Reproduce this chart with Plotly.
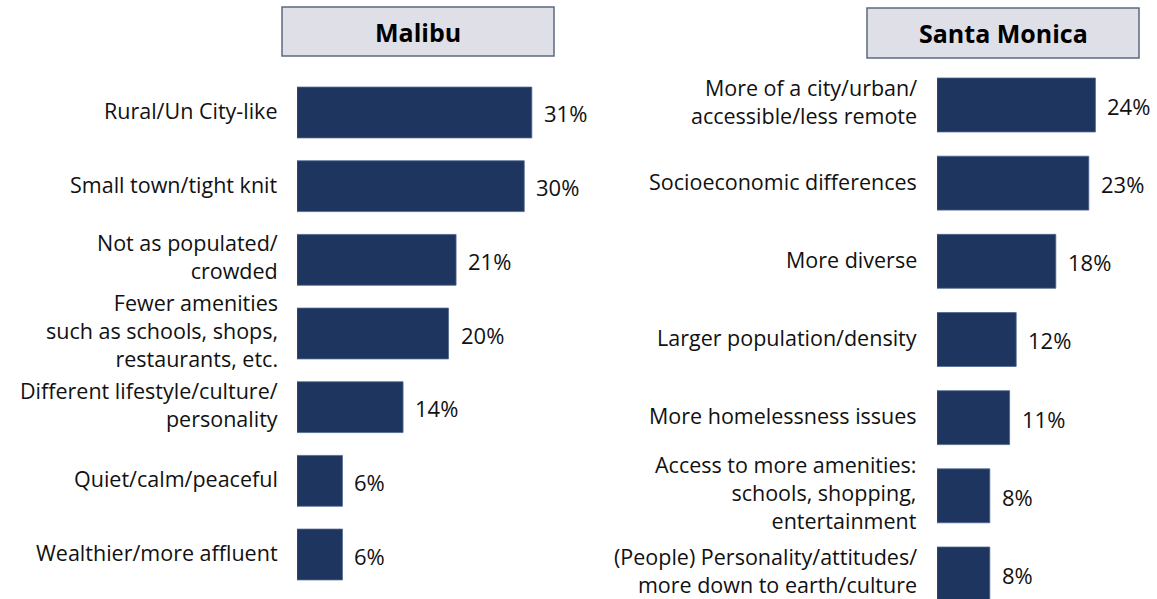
import plotly.graph_objects as go

# Malibu panel
malibu_labels = [
    "Rural/Un City-like",
    "Small town/tight knit",
    "Not as populated/<br>crowded",
    "Fewer amenities<br>such as schools, shops,<br>restaurants, etc.",
    "Different lifestyle/culture/<br>personality",
    "Quiet/calm/peaceful",
    "Wealthier/more affluent",
]
malibu_values = [31, 30, 21, 20, 14, 6, 6]

# Santa Monica panel
sm_labels = [
    "More of a city/urban/<br>accessible/less remote",
    "Socioeconomic differences",
    "More diverse",
    "Larger population/density",
    "More homelessness issues",
    "Access to more amenities:<br>schools, shopping,<br>entertainment",
    "(People) Personality/attitudes/<br>more down to earth/culture",
]
sm_values = [24, 23, 18, 12, 11, 8, 8]

BAR = "#1E3560"
FONT = "Open Sans"
FS_CAT = 21.5
FS_VAL = 22
W, H = 1157, 599

fig = go.Figure()
fig.add_trace(go.Bar(
    x=malibu_values, y=malibu_labels, orientation="h", width=0.69,
    marker=dict(color=BAR, line=dict(color="#4E6690", width=0.8)),
    xaxis="x", yaxis="y", showlegend=False, hoverinfo="skip"))
fig.add_trace(go.Bar(
    x=sm_values, y=sm_labels, orientation="h", width=0.69,
    marker=dict(color=BAR, line=dict(color="#4E6690", width=0.8)),
    xaxis="x2", yaxis="y2", showlegend=False, hoverinfo="skip"))

annotations = []


def category_labels(labels, xref, yref, gap):
    # right-aligned category text to the left of each bar
    for lab in labels:
        n = lab.count("<br>") + 1
        annotations.append(dict(
            x=0, y=lab, xref=xref, yref=yref, text=lab, showarrow=False,
            xanchor="right", yanchor="middle", align="right", xshift=-gap,
            yshift=2 if n == 1 else 3,
            font=dict(family=FONT, size=FS_CAT, color="#111")))


def value_labels(labels, values, xref, yref):
    for lab, v in zip(labels, values):
        annotations.append(dict(
            x=v, y=lab, xref=xref, yref=yref, text=f"{v}%", showarrow=False,
            xanchor="left", yanchor="middle", xshift=10, yshift=-1,
            font=dict(family=FONT, size=FS_VAL, color="#111")))


category_labels(malibu_labels, "x", "y", 17)
category_labels(sm_labels, "x2", "y2", 18)
value_labels(malibu_labels, malibu_values, "x", "y")
value_labels(sm_labels, sm_values, "x2", "y2")

# panel headers
headers = [("Malibu", 282, 554, 7, 56), ("Santa Monica", 867, 1139, 8, 58)]
shapes = []
for name, x0, x1, y0, y1 in headers:
    shapes.append(dict(type="rect", xref="paper", yref="paper",
                       x0=x0 / W, x1=x1 / W, y0=1 - y1 / H, y1=1 - y0 / H,
                       fillcolor="#DFDFE7", line=dict(color="#5B6B80", width=1.5)))
    annotations.append(dict(x=(x0 + x1) / 2 / W, y=1 - (y0 + y1) / 2 / H,
                            xref="paper", yref="paper", text=f"<b>{name}</b>",
                            showarrow=False, xanchor="center", yanchor="middle",
                            font=dict(family=FONT, size=25, color="#000")))

axis_common = dict(showgrid=False, zeroline=False, showline=False, showticklabels=False)
fig.update_layout(
    width=W, height=H,
    margin=dict(l=0, r=0, t=0, b=0),
    paper_bgcolor="white", plot_bgcolor="white",
    font=dict(family=FONT, size=FS_CAT, color="#111"),
    xaxis=dict(domain=[297 / W, 600 / W], range=[0, 40], **axis_common),
    xaxis2=dict(domain=[937 / W, 1135 / W], range=[0, 30], **axis_common),
    yaxis=dict(domain=[0, 1], range=[6.604, -1.527], anchor="x", **axis_common),
    yaxis2=dict(domain=[0, 1], range=[6.32, -1.343], anchor="x2", **axis_common),
    shapes=shapes,
    annotations=annotations,
)

fig.write_html("out.html")
